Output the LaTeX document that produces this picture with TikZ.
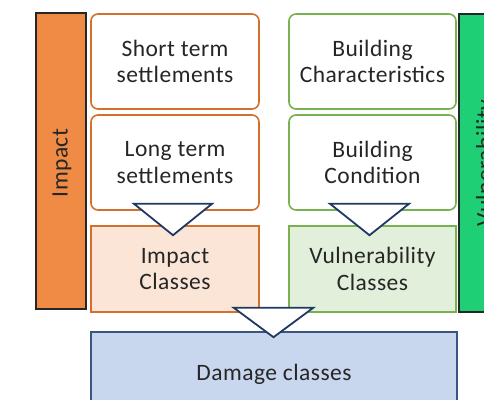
\documentclass[tikz,border=0pt]{standalone}
\usepackage{fontspec}
\setmainfont{Carlito}[LetterSpace=2]
\usetikzlibrary{calc}
\definecolor{orbar}{HTML}{EF8B45}
\definecolor{orline}{HTML}{D4702C}
\definecolor{orfill}{HTML}{FBE5D6}
\definecolor{grline}{HTML}{77B150}
\definecolor{grfill}{HTML}{E2EFDA}
\definecolor{grbar}{HTML}{1FCF75}
\definecolor{blfill}{HTML}{C9D7EE}
\definecolor{blline}{HTML}{3B557F}
\definecolor{triline}{HTML}{1F3864}
\definecolor{txt}{HTML}{262626}
\tikzset{
  lbl/.style={font=\fontsize{23.5}{26.5}\selectfont, text=txt, align=center, inner sep=0pt},
  obox/.style={lbl, draw=orline, line width=1.6pt, fill=white, rounded corners=7pt, minimum width=168pt, minimum height=95pt},
  gbox/.style={lbl, draw=grline, line width=1.6pt, fill=white, rounded corners=7pt, minimum width=167pt, minimum height=95pt},
  ocls/.style={lbl, draw=orline, line width=1.6pt, fill=orfill, minimum width=168pt, minimum height=86pt},
  gcls/.style={lbl, draw=grline, line width=1.6pt, fill=grfill, minimum width=167pt, minimum height=86pt},
  sidebar/.style={lbl, draw=black!85, line width=1.2pt, minimum width=50pt},
  tri/.style={draw=triline, line width=1.8pt, fill=white, line join=miter},
}
\begin{document}
\begin{tikzpicture}[x=1pt,y=-1pt]
\useasboundingbox (0,0) rectangle (484,399);
\clip (0,0) rectangle (484,399);
\fill[white] (0,0) rectangle (484,399);
% side bars
\node[sidebar, fill=orbar, minimum height=296pt] (impbar) at (61,161) {};
\node[lbl, rotate=90] (imptxt) at ($(impbar.center)+(1,2)$) {Impact};
\node[sidebar, fill=grbar, minimum height=298pt] (vulbar) at (484,163) {};
\node[lbl, rotate=90] (vultxt) at ($(vulbar.center)+(2,0)$) {Vulnerability};
% boxes
\node[obox] (short) at (175,61.5) {Short term\\settlements};
\node[obox] (long) at (175,162.5) {Long term\\settlements};
\node[ocls] (impc) at (175,269) {Impact\\Classes};
\node[gbox] (bchar) at (372.5,61.5) {Building\\Characteristics};
\node[gbox] (bcond) at (372.5,162.5) {Building\\Condition};
\node[gcls] (vulc) at (372.5,269) {Vulnerability\\Classes};
\node[lbl, draw=blline, line width=1.6pt, fill=blfill, minimum width=366pt, minimum height=84pt] (dmg) at (274,374) {\raisebox{4pt}{Damage classes}};
% triangles
\draw[tri] ($(long.south)+(-41,-7)$) -- ($(long.south)+(37,-7)$) -- ($(impc.north)+(-2,10)$) -- cycle;
\draw[tri] ($(bcond.south)+(-42.5,-7)$) -- ($(bcond.south)+(36.5,-7)$) -- ($(vulc.north)+(-3,10)$) -- cycle;
\draw[tri] ($(impc.south east)+(-26,-5)$) -- ($(vulc.south west)+(25,-5)$) -- ($(dmg.north)+(-0.5,6)$) -- cycle;
\end{tikzpicture}
\end{document}
